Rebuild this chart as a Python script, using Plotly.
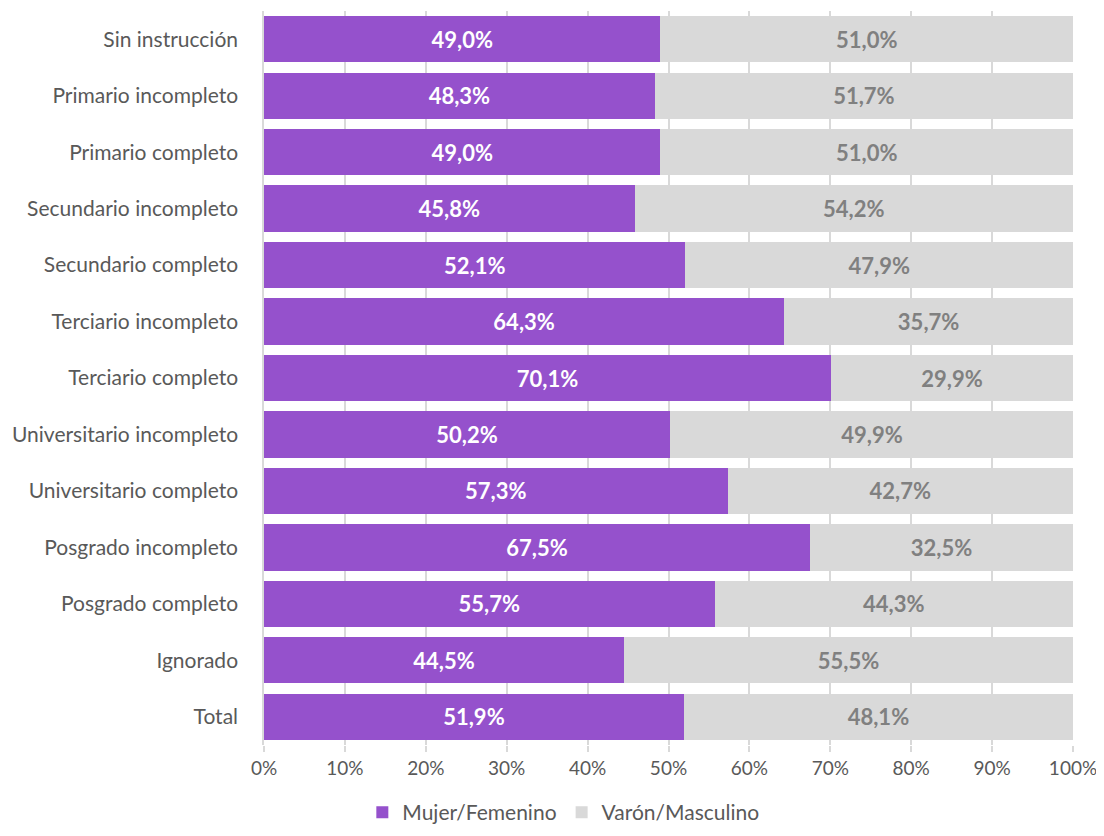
import plotly.graph_objects as go

categories = ["Sin instrucción", "Primario incompleto", "Primario completo", "Secundario incompleto",
              "Secundario completo", "Terciario incompleto", "Terciario completo",
              "Universitario incompleto", "Universitario completo", "Posgrado incompleto",
              "Posgrado completo", "Ignorado", "Total"]
mujer = [49.0, 48.3, 49.0, 45.8, 52.1, 64.3, 70.1, 50.2, 57.3, 67.5, 55.7, 44.5, 51.9]
varon = [51.0, 51.7, 51.0, 54.2, 47.9, 35.7, 29.9, 49.9, 42.7, 32.5, 44.3, 55.5, 48.1]
tick_vals = [0, 10, 20, 30, 40, 50, 60, 70, 80, 90, 100]
tick_text = ["0%", "10%", "20%", "30%", "40%", "50%", "60%", "70%", "80%", "90%", "100%"]

def fmt(v):
    return f"{v:.1f}%".replace(".", ",")

FONT = "Lato"
fig = go.Figure()
fig.add_trace(go.Bar(
    y=categories, x=mujer, orientation="h", name="Mujer/Femenino",
    marker=dict(color="#9551CC", line=dict(width=0)),
    text=[fmt(v) for v in mujer], textposition="inside", insidetextanchor="middle",
    textfont=dict(family=FONT, size=22, color="white", weight="bold"),
    hoverinfo="skip",
))
fig.add_trace(go.Bar(
    y=categories, x=varon, orientation="h", name="Varón/Masculino",
    marker=dict(color="#D9D9D9", line=dict(width=0)),
    text=[fmt(v) for v in varon], textposition="inside", insidetextanchor="middle",
    textfont=dict(family=FONT, size=22, color="#808080", weight="bold"),
    hoverinfo="skip",
))

fig.update_layout(
    width=1088, height=820,
    barmode="stack", bargap=0.18,
    plot_bgcolor="white", paper_bgcolor="white",
    margin=dict(l=256, r=23, t=3, b=83, autoexpand=False),
    font=dict(family=FONT, size=20, color="#595959"),
    showlegend=True,
    legend=dict(orientation="h", x=0.37, xanchor="center", y=-0.092, yanchor="middle",
                font=dict(family=FONT, size=21, color="#595959"), traceorder="normal",
                itemwidth=30),
    uniformtext=dict(mode="show", minsize=10),
)
fig.update_xaxes(
    range=[0, 100], tickvals=tick_vals, ticktext=tick_text,
    showgrid=True, gridcolor="#D9D9D9", gridwidth=1.5,
    ticks="outside", ticklen=6, tickcolor="#D9D9D9", tickwidth=1.5,
    showline=False, zeroline=False, ticklabeloverflow="allow",
    tickfont=dict(family=FONT, size=19, color="#595959"),
    fixedrange=True,
)
fig.update_yaxes(
    autorange="reversed", categoryorder="array", categoryarray=categories,
    showline=True, linecolor="#D9D9D9", linewidth=1.5, showgrid=False,
    ticks="", ticklabelstandoff=20,
    tickfont=dict(family=FONT, size=21, color="#595959"),
    fixedrange=True,
)
fig.write_html("out.html")
